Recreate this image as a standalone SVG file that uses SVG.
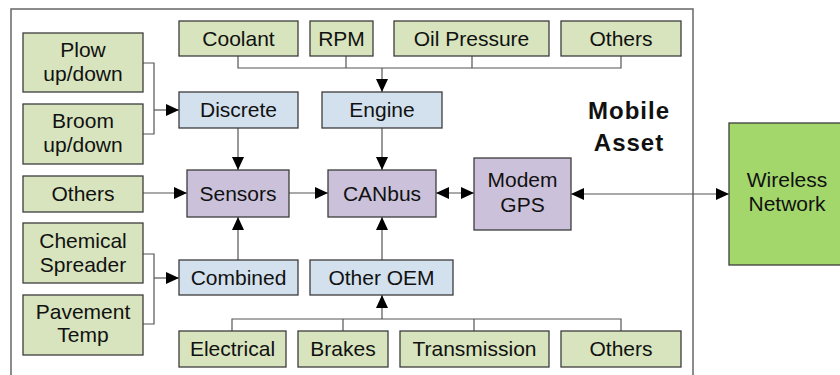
<svg xmlns="http://www.w3.org/2000/svg" width="840" height="375" viewBox="0 0 840 375">
<defs>
<marker id="ah" markerWidth="13" markerHeight="12" viewBox="0 0 13 12" refX="13" refY="6" orient="auto" markerUnits="userSpaceOnUse">
<path d="M0,0 L13,6 L0,12 Z" fill="#000"/>
</marker>
<marker id="as" markerWidth="13" markerHeight="12" viewBox="0 0 13 12" refX="0" refY="6" orient="auto" markerUnits="userSpaceOnUse">
<path d="M13,0 L0,6 L13,12 Z" fill="#000"/>
</marker>
</defs>
<style>
.g{fill:#d7e4bd;stroke:#3c3c3c;stroke-width:1.3}
.b{fill:#d3e0ee;stroke:#3c3c3c;stroke-width:1.3}
.p{fill:#ccc1da;stroke:#3c3c3c;stroke-width:1.3}
.w{fill:#a3d76b;stroke:#3c3c3c;stroke-width:1.3}
text{font-family:"Liberation Sans",Arial,sans-serif;font-size:21px;fill:#111;text-anchor:middle}
text.t{font-weight:bold;font-size:24px;letter-spacing:1px}
.c{fill:none;stroke:#555;stroke-width:1.2}
.a{fill:none;stroke:#555;stroke-width:1.2;marker-end:url(#ah)}
.d{fill:none;stroke:#555;stroke-width:1.2;marker-end:url(#ah);marker-start:url(#as)}
</style>
<rect x="11" y="9" width="682" height="380" fill="#fff" stroke="#666" stroke-width="1.5"/>
<text class="t" x="629" y="119">Mobile</text>
<text class="t" x="629" y="151">Asset</text>
<g id="connectors">
<path class="c" d="M238,56 V68 H621 V56 M346,56 V68 M472,56 V68"/>
<path class="a" d="M382,68 V92"/>
<path class="a" d="M238,128 V170"/>
<path class="a" d="M382,128 V170"/>
<path class="c" d="M143,63 H154 V134 H143"/>
<path class="a" d="M154,110 H179"/>
<path class="c" d="M143,254 H154 V324 H143"/>
<path class="a" d="M154,278 H179"/>
<path class="a" d="M143,193 H187"/>
<path class="a" d="M289,193 H328"/>
<path class="d" d="M436,193 H474"/>
<path class="d" d="M571,194 H729"/>
<path class="a" d="M238,260 V217"/>
<path class="a" d="M382,260 V217"/>
<path class="c" d="M232,331 V319 H621 V331 M343,331 V319 M474,331 V319"/>
<path class="a" d="M382,319 V295"/>
</g>
<g id="coolant"><rect class="g" x="179" y="21" width="119" height="35"/><text x="238.5" y="46">Coolant</text></g>
<g id="rpm"><rect class="g" x="310" y="21" width="63" height="35"/><text x="341.5" y="46">RPM</text></g>
<g id="oilpressure"><rect class="g" x="394" y="21" width="155" height="35"/><text x="471.5" y="46">Oil Pressure</text></g>
<g id="others-top"><rect class="g" x="561" y="21" width="120" height="35"/><text x="621" y="46">Others</text></g>
<g id="plow"><rect class="g" x="23" y="33" width="120" height="59"/><text x="83" y="57">Plow</text><text x="83" y="81">up/down</text></g>
<g id="broom"><rect class="g" x="23" y="104" width="120" height="60"/><text x="83" y="128">Broom</text><text x="83" y="152">up/down</text></g>
<g id="others-left"><rect class="g" x="23" y="176" width="120" height="36"/><text x="83" y="201">Others</text></g>
<g id="chemical"><rect class="g" x="23" y="223" width="120" height="60"/><text x="83" y="248">Chemical</text><text x="83" y="272">Spreader</text></g>
<g id="pavement"><rect class="g" x="23" y="295" width="120" height="60"/><text x="83" y="319">Pavement</text><text x="83" y="342">Temp</text></g>
<g id="discrete"><rect class="b" x="179" y="92" width="119" height="36"/><text x="238.5" y="117">Discrete</text></g>
<g id="engine"><rect class="b" x="322" y="92" width="120" height="36"/><text x="382" y="117">Engine</text></g>
<g id="sensors"><rect class="p" x="187" y="170" width="102" height="47"/><text x="238" y="201">Sensors</text></g>
<g id="canbus"><rect class="p" x="328" y="170" width="108" height="47"/><text x="382" y="201">CANbus</text></g>
<g id="modem"><rect class="p" x="474" y="158" width="97" height="72"/><text x="522.5" y="187">Modem</text><text x="522.5" y="212">GPS</text></g>
<g id="wireless"><rect class="w" x="729" y="123" width="120" height="142"/><text x="787" y="187">Wireless</text><text x="787" y="211">Network</text></g>
<g id="combined"><rect class="b" x="179" y="260" width="119" height="35"/><text x="238.5" y="285">Combined</text></g>
<g id="otheroem"><rect class="b" x="310" y="260" width="143" height="35"/><text x="381.5" y="285">Other OEM</text></g>
<g id="electrical"><rect class="g" x="179" y="331" width="107" height="36"/><text x="232.5" y="356">Electrical</text></g>
<g id="brakes"><rect class="g" x="298" y="331" width="90" height="36"/><text x="343" y="356">Brakes</text></g>
<g id="transmission"><rect class="g" x="400" y="331" width="149" height="36"/><text x="474.5" y="356">Transmission</text></g>
<g id="others-bottom"><rect class="g" x="561" y="331" width="120" height="36"/><text x="621" y="356">Others</text></g>
</svg>
